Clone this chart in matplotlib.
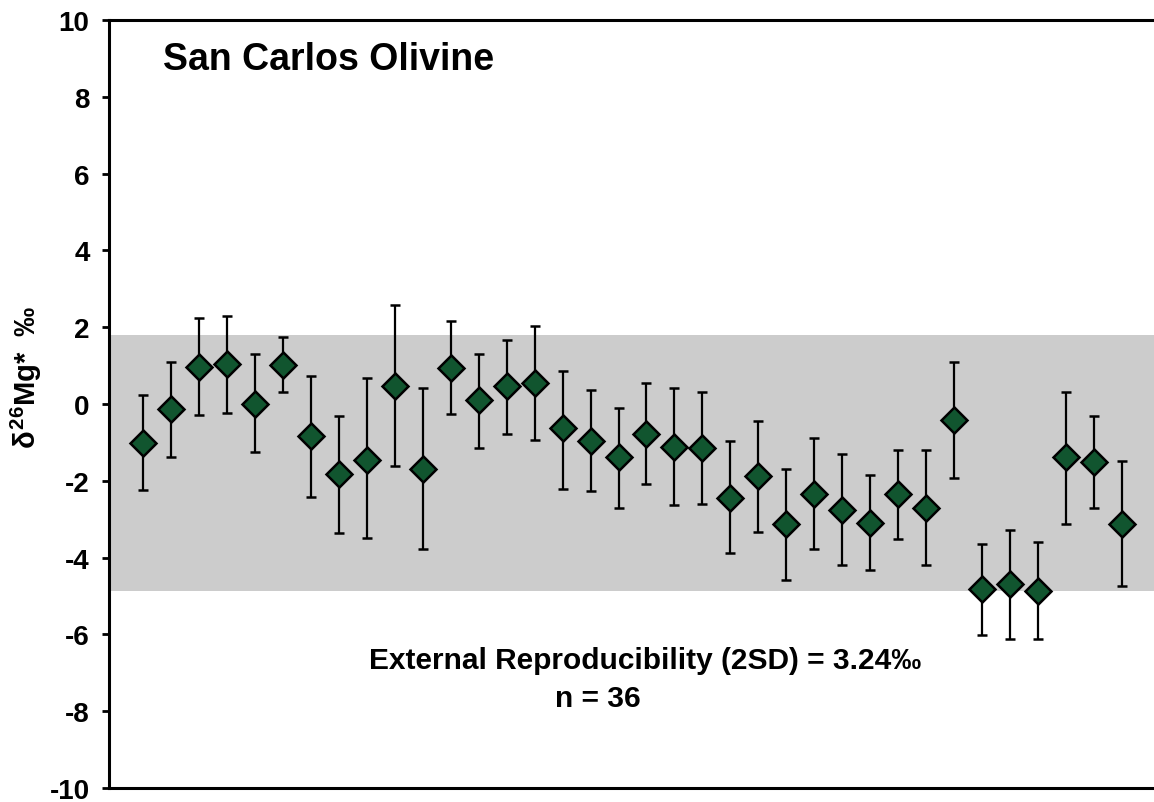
import matplotlib
matplotlib.use('Agg')
import matplotlib.pyplot as plt
import numpy as np

# delta 26Mg* of San Carlos olivine, one value per analysis, with 2SD error bars
delta = [-1.02, -0.13, 0.96, 1.04, 0.00, 1.02, -0.84, -1.83, -1.45, 0.46,
         -1.69, 0.93, 0.10, 0.46, 0.55, -0.63, -0.96, -1.37, -0.78, -1.11,
         -1.15, -2.45, -1.88, -3.13, -2.34, -2.75, -3.10, -2.34, -2.72, -0.41,
         -4.82, -4.69, -4.86, -1.39, -1.50, -3.13]
upper = [0.23, 1.09, 2.25, 2.29, 1.29, 1.74, 0.73, -0.31, 0.69, 2.58,
         0.42, 2.16, 1.29, 1.67, 2.02, 0.86, 0.36, -0.10, 0.54, 0.42,
         0.31, -0.97, -0.43, -1.70, -0.89, -1.29, -1.85, -1.20, -1.20, 1.09,
         -3.64, -3.27, -3.60, 0.31, -0.32, -1.48]
lower = [-2.23, -1.38, -0.28, -0.23, -1.26, 0.32, -2.43, -3.36, -3.50, -1.62,
         -3.78, -0.27, -1.14, -0.78, -0.93, -2.20, -2.27, -2.72, -2.07, -2.62,
         -2.61, -3.89, -3.32, -4.58, -3.78, -4.18, -4.33, -3.52, -4.18, -1.93,
         -6.02, -6.12, -6.12, -3.12, -2.72, -4.74]
band_top = 1.80
band_bottom = -4.87
yticks = [-10, -8, -6, -4, -2, 0, 2, 4, 6, 8, 10]

plt.rcParams['axes.unicode_minus'] = False
plt.rcParams['mathtext.fontset'] = 'custom'
plt.rcParams['mathtext.rm'] = 'Liberation Sans:bold'
plt.rcParams['mathtext.bf'] = 'Liberation Sans:bold'
plt.rcParams['mathtext.it'] = 'Liberation Sans:bold'

delta = np.array(delta)
x = np.arange(1, len(delta) + 1)
yerr = [delta - np.array(lower), np.array(upper) - delta]

fig = plt.figure(figsize=(11.54, 8.03), dpi=100)
ax = fig.add_axes([0.0945, 0.0174, 0.9055, 0.9564])

ax.axhspan(band_bottom, band_top, color='#cccccc', lw=0, zorder=0)
ax.errorbar(x, delta, yerr=yerr, fmt='none', ecolor='black', elinewidth=1.6,
            capsize=3.3, capthick=1.8, zorder=2)
ax.plot(x, delta, 'D', ms=13, mfc='#11552f', mec='black', mew=1.8, zorder=3)

ax.set_xlim(-0.22, 37.15)
ax.set_ylim(-10, 10)
ax.set_yticks(yticks)
ax.set_xticks([])
ax.spines['right'].set_visible(False)
for s in ['left', 'top', 'bottom']:
    ax.spines[s].set_linewidth(2.2)
ax.tick_params(axis='y', direction='out', length=5, width=2, pad=9)
for lab in ax.get_yticklabels():
    lab.set_fontfamily('Liberation Sans')
    lab.set_fontweight('bold')
    lab.set_fontsize(20)

ax.set_ylabel(r'$\delta^{26}$Mg*  ‰', fontfamily='Liberation Sans',
              fontweight='bold', fontsize=21)
ax.yaxis.set_label_coords(-0.062, 0.536)

ax.text(0.052, 0.949, 'San Carlos Olivine', transform=ax.transAxes,
        fontfamily='Liberation Sans', fontweight='bold', fontsize=27,
        ha='left', va='center')
ax.text(0.513, 0.167, 'External Reproducibility (2SD) = 3.24‰', transform=ax.transAxes,
        fontfamily='Liberation Sans', fontweight='bold', fontsize=21.5,
        ha='center', va='center')
ax.text(0.468, 0.117, 'n = 36', transform=ax.transAxes,
        fontfamily='Liberation Sans', fontweight='bold', fontsize=21.5,
        ha='center', va='center')

fig.savefig('out.png', dpi=100)
